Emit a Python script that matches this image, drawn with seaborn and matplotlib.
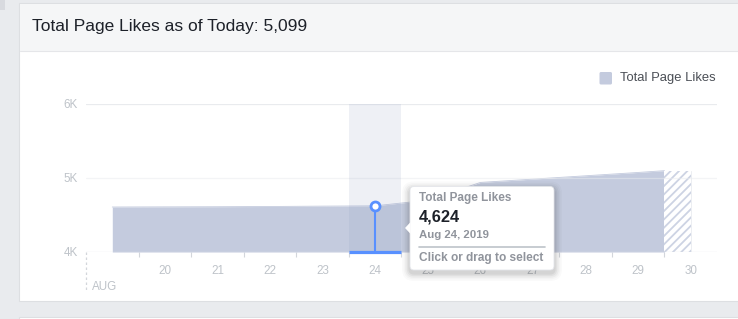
import matplotlib
matplotlib.use("Agg")
import matplotlib.pyplot as plt
import seaborn as sns
import pandas as pd
from matplotlib.patches import Rectangle, FancyBboxPatch, Polygon

# ---------------- data ----------------
title = "Total Page Likes as of Today: 5,099"
series_name = "Total Page Likes"
days = [19, 20, 21, 22, 23, 24, 25, 26, 27, 28, 29, 29.5]
likes = [4608, 4610, 4612, 4615, 4620, 4624, 4700, 4940, 4985, 5030, 5075, 5099]
projected_days = [29.5, 30]
projected_likes = [5099, 5099]
tick_days = [20, 21, 22, 23, 24, 25, 26, 27, 28, 29, 30]
tick_labels = ["20", "21", "22", "23", "24", "25", "26", "27", "28", "29", "30"]
month_label = "AUG"
y_ticks = [4000, 5000, 6000]
y_tick_labels = ["4K", "5K", "6K"]
hover_day = 24
hover_value = 4624
hover_value_label = "4,624"
hover_date = "Aug 24, 2019"
hover_hint = "Click or drag to select"

# ---------------- style ----------------
sns.set_theme(style="white")
plt.rcParams["font.family"] = ["Liberation Sans", "DejaVu Sans"]
plt.rcParams["hatch.linewidth"] = 1.3

W, H = 738, 319
AREA = "#c4cbde"
BLUE = "#5890ff"
GRID = "#e9ebee"
TICKC = "#bec3c9"

fig = plt.figure(figsize=(W / 100, H / 100), dpi=100)
fig.patch.set_facecolor("#e9ebee")

# background card (pixel coordinates)
bg = fig.add_axes([0, 0, 1, 1], zorder=-5)
bg.set_xlim(0, W)
bg.set_ylim(H, 0)
bg.axis("off")
bg.add_patch(Rectangle((19, 3), 740, 298, facecolor="white", edgecolor="#dddfe2", lw=0.8))
bg.add_patch(Rectangle((19.5, 3.5), 740, 47.5, facecolor="#f5f6f7", edgecolor="none"))
bg.plot([19.5, 740], [51, 51], color="#e5e6e9", lw=0.8)
bg.add_patch(Rectangle((19, 317), 740, 10, facecolor="white", edgecolor="#dddfe2", lw=0.8))
bg.add_patch(Rectangle((0, 0), 5, 10, facecolor="#d8dadf", edgecolor="none"))

# main axes
ax = fig.add_axes([86 / W, (H - 252) / H, (717 - 86) / W, (252 - 104) / H])
ax.set_facecolor("none")
for s in ax.spines.values():
    s.set_visible(False)
ax.set_xlim(18.5, 30.5)
ax.set_ylim(4000, 6000)

df = pd.DataFrame({"day": days, "likes": likes})
ax.fill_between(df["day"], 4000, df["likes"], color=AREA, lw=0, zorder=1)
sns.lineplot(data=df, x="day", y="likes", ax=ax, color=AREA, lw=0.6, zorder=1)
ax.fill_between(projected_days, 4000, projected_likes, facecolor="white",
                hatch="////", edgecolor="#cdd3e3", linewidth=0, zorder=1)
ax.plot([projected_days[-1]] * 2, [4000, projected_likes[-1]], color="#eceef2", lw=0.7, zorder=1)

for yv in y_ticks:
    ax.axhline(yv, color=GRID if yv != 4000 else "#e3e5e9", lw=0.9,
               zorder=0 if yv == 6000 else 1.5, alpha=1 if yv != 5000 else 0.5)

# hover band
ax.axvspan(hover_day - 0.5, hover_day + 0.5, color="#8d9cc0", alpha=0.15, lw=0, zorder=2)
ax.plot([hover_day - 0.5, hover_day + 0.5], [4000, 4000], color=BLUE, lw=2.3,
        solid_capstyle="butt", zorder=3, clip_on=False)
ax.plot([hover_day, hover_day], [4000, hover_value], color=BLUE, lw=1.5, zorder=3)
sns.scatterplot(x=[hover_day], y=[hover_value], ax=ax, s=42, color="white",
                edgecolor=BLUE, linewidth=2.0, zorder=4)

# ticks
ax.set_xticks([d - 0.5 for d in tick_days])
ax.set_xticklabels([])
ax.set_xticks(tick_days, minor=True)
ax.set_xticklabels(tick_labels, minor=True)
ax.tick_params(axis="x", which="major", length=3.5, width=0.8, color="#d3d6db",
               direction="out", bottom=True)
ax.tick_params(axis="x", which="minor", length=0, pad=9, labelsize=8.4, labelcolor=TICKC)
ax.set_yticks(y_ticks)
ax.set_yticklabels(y_tick_labels)
ax.tick_params(axis="y", length=0, pad=6, labelsize=8.4, labelcolor=TICKC)
ax.set_xlabel("")
ax.set_ylabel("")
ax.plot([18.5, 18.5], [4000, 3460], color="#d3d6db", lw=0.9, ls=(0, (2, 2)),
        clip_on=False, zorder=1)

# foreground overlay
fg = fig.add_axes([0, 0, 1, 1], zorder=10)
fg.set_xlim(0, W)
fg.set_ylim(H, 0)
fg.axis("off")
fg.patch.set_alpha(0)

fg.text(32.5, 27, title, fontsize=12.5, color="#1d2129", va="center", ha="left")
fg.text(92, 287, month_label, fontsize=8.4, color=TICKC, va="center", ha="left")

# legend
fg.add_patch(FancyBboxPatch((599.5, 72), 12.5, 12.5, boxstyle="round,pad=0,rounding_size=1.5",
                            facecolor=AREA, edgecolor="none"))
fg.text(620, 78.5, series_name, fontsize=9.4, color="#4b4f56", va="center", ha="left")

# tooltip
x0, y0, x1, y1 = 410, 186.5, 554, 270
for i, a in enumerate([0.02, 0.025, 0.035, 0.045, 0.05]):
    g = 8 - i * 1.6
    fg.add_patch(FancyBboxPatch((x0 - g, y0 - g + 3), (x1 - x0) + 2 * g, (y1 - y0) + 2 * g,
                                boxstyle="round,pad=0,rounding_size=%g" % (4 + g),
                                facecolor="black", edgecolor="none", alpha=a))
fg.add_patch(FancyBboxPatch((x0, y0), x1 - x0, y1 - y0, boxstyle="round,pad=0,rounding_size=4",
                            facecolor="white", edgecolor="#e4e6ea", lw=0.6))
fg.add_patch(Polygon([[x0 + 0.6, 222], [x0 - 5, 228], [x0 + 0.6, 234]], closed=True,
                     facecolor="white", edgecolor="none"))
fg.text(419, 198, series_name, fontsize=8.5, color="#90949c", fontweight="bold",
        va="center", ha="left")
fg.text(418.5, 217.5, hover_value_label, fontsize=11.8, color="#1d2129", fontweight="bold",
        va="center", ha="left")
fg.text(419, 235, hover_date, fontsize=8.2, color="#90949c", fontweight="bold",
        va="center", ha="left")
fg.plot([419, 545], [246.5, 246.5], color="#bec3c9", lw=1.2)
fg.text(419, 258, hover_hint, fontsize=8.6, color="#90949c", fontweight="bold",
        va="center", ha="left")

fig.savefig("out.png", dpi=100, facecolor=fig.get_facecolor())
